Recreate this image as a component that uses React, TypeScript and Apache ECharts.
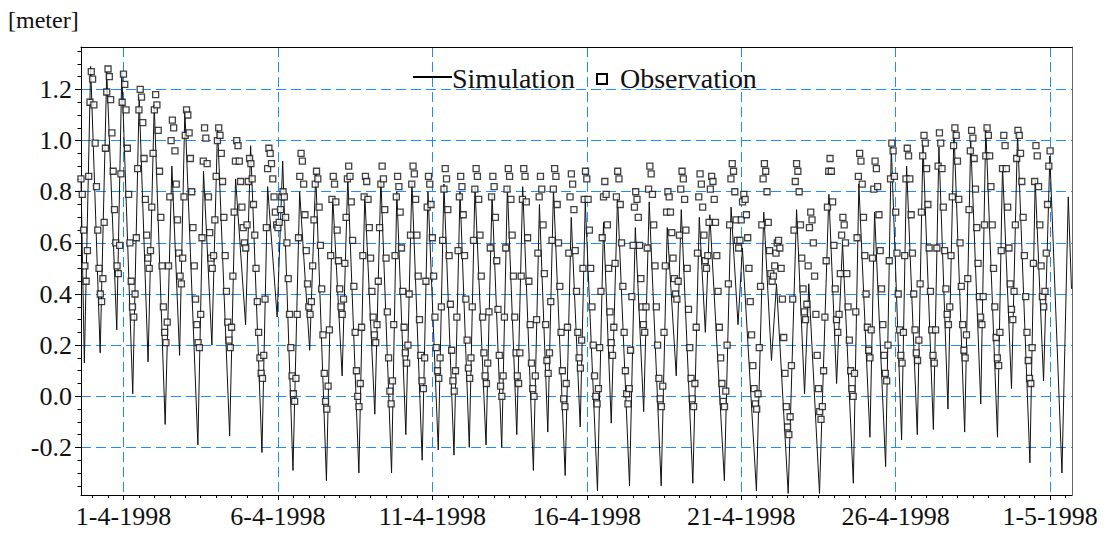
import React, { useEffect, useRef } from "react";
import * as echarts from "echarts";

// Time axis: hours since 30-3-1998 15:00
const xTickHours = [33, 153, 273, 393, 513, 633, 753];
const xTickLabels = ["1-4-1998", "6-4-1998", "11-4-1998", "16-4-1998", "21-4-1998", "26-4-1998", "1-5-1998"];
const yTickValues = [-0.2, 0, 0.2, 0.4, 0.6, 0.8, 1.0, 1.2];
const yTickLabels = ["-0.2", "0.0", "0.2", "0.4", "0.6", "0.8", "1.0", "1.2"];

// Simulation: turning points of the simulated water level (hour, meter)
const simHours = [
  0, 2.6, 7.5, 14.9, 20.0, 27.8, 31.7, 40.2, 45.2, 52.1, 56.9, 65.4, 70.6, 76.6, 80.7, 90.8, 95.2, 101.7, 106.1, 115.5,
  120.1, 127.9, 131.8, 140.6, 145.0, 152.4, 156.7, 164.7, 169.9, 177.7, 182.4, 190.7, 195.6, 202.9, 207.3, 215.9, 220.5,
  228.3, 233.0, 241.3, 245.4, 252.4, 257.1, 265.1, 269.6, 277.6, 282.0, 289.8, 294.5, 301.7, 306.1, 314.7, 319.4, 326.9,
  331.3, 338.6, 343.2, 351.5, 356.2, 362.7, 367.1, 376.2, 380.9, 387.9, 391.8, 401.3, 406.0, 412.0, 416.9, 426.2, 430.7,
  437.2, 441.5, 450.8, 455.5, 462.5, 466.4, 475.4, 480.4, 485.1, 488.6, 499.9, 505.1, 510.5, 513.9, 524.8, 530.5, 536.5,
  540.4, 549.5, 556.0, 562.2, 565.5, 573.8, 581.1, 587.1, 591.7, 600.1, 604.4, 613.0, 616.6, 625.2, 629.6, 637.6, 641.5,
  649.8, 654.2, 662.3, 666.6, 673.6, 678.3, 686.6, 691.3, 699.1, 703.0, 712.1, 716.0, 723.0, 727.7, 737.3, 741.4, 747.9,
  752.8, 762.2, 767.1, 769.6,
];
const simLevels = [
  0.85, 0.13, 1.29, 0.17, 1.27, 0.26, 1.27, 0.01, 1.17, 0.135, 1.14, -0.11, 0.9, 0.16, 1.12, -0.19, 0.88, 0.2, 1.05, -0.155,
  0.85, 0.28, 0.98, -0.22, 0.82, 0.31, 0.92, -0.29, 0.8, 0.18, 0.87, -0.33, 0.78, 0.08, 0.86, -0.3, 0.79,
  -0.07, 0.85, -0.3, 0.8, -0.15, 0.84, -0.25, 0.8, -0.21, 0.83, -0.23, 0.8, -0.2, 0.82, -0.19, 0.79, -0.2,
  0.82, -0.15, 0.82, -0.29, 0.75, -0.14, 0.81, -0.31, 0.7, -0.12, 0.76, -0.37, 0.68, -0.105, 0.78, -0.35, 0.66,
  -0.06, 0.76, -0.35, 0.66, 0.08, 0.73, -0.34, 0.7, 0.25, 0.71, -0.33, 0.74, 0.28, 0.58, -0.37, 0.72, 0.14,
  0.44, -0.38, 0.73, 0.01, 0.44, -0.38, 0.79, 0.05, 0.6, -0.34, 0.83, -0.16, 0.72, -0.275, 0.975, -0.17, 0.9,
  -0.15, 0.985, -0.13, 0.975, -0.05, 1.04, -0.14, 1.0, -0.03, 1.05, -0.16, 0.9, 0.03, 1.03, -0.26, 0.845, 0.06,
  0.94, -0.3, 0.78, 0.42,
];

// Observation: hourly observed water level from hour 0
const obsStartHour = 0;
const obsLevels = [
  0.85, 0.79, 0.65, 0.51, 0.45, 0.57, 0.86, 1.15, 1.27, 1.24, 1.14, 0.99, 0.82, 0.65, 0.5, 0.4, 0.37,
  0.46, 0.68, 0.97, 1.19, 1.28, 1.25, 1.16, 1.03, 0.88, 0.73, 0.6, 0.51, 0.48, 0.59, 0.87, 1.15, 1.26,
  1.22, 1.12, 0.97, 0.79, 0.6, 0.45, 0.35, 0.31, 0.4, 0.62, 0.89, 1.12, 1.2, 1.17, 1.07, 0.93, 0.77, 0.63, 0.54, 0.5,
  0.57, 0.74, 0.95, 1.12, 1.18, 1.14, 1.04, 0.88, 0.7, 0.51, 0.35, 0.25, 0.21, 0.29, 0.51, 0.78, 1.0, 1.08,
  1.05, 0.96, 0.83, 0.69, 0.56, 0.47, 0.44, 0.54, 0.78, 1.02, 1.12,
  1.1, 1.03, 0.93, 0.8, 0.66, 0.51, 0.38, 0.28, 0.21, 0.19, 0.32, 0.62, 0.92, 1.05,
  1.01, 0.91, 0.78, 0.64, 0.54, 0.5, 0.55, 0.69, 0.86, 1.0, 1.05,
  1.02, 0.95, 0.84, 0.7, 0.55, 0.41, 0.29, 0.22, 0.19, 0.27, 0.47, 0.72, 0.92, 1.0,
  0.98, 0.92, 0.84, 0.74, 0.66, 0.6, 0.58, 0.67, 0.84, 0.93,
  0.91, 0.85, 0.75, 0.63, 0.5, 0.37, 0.25, 0.15, 0.09, 0.07, 0.16, 0.38, 0.66, 0.89, 0.97,
  0.95, 0.91, 0.85, 0.78, 0.72, 0.67, 0.66, 0.68, 0.73, 0.78, 0.8,
  0.78, 0.7, 0.6, 0.46, 0.32, 0.19, 0.08, 0.01, -0.02, 0.07, 0.32, 0.62, 0.86, 0.95,
  0.92, 0.83, 0.71, 0.57, 0.44, 0.35, 0.32, 0.37, 0.51, 0.69, 0.83, 0.88,
  0.85, 0.74, 0.59, 0.42, 0.24, 0.09, -0.02, -0.05, 0.04, 0.26, 0.55, 0.77, 0.86,
  0.83, 0.76, 0.65, 0.53, 0.42, 0.35, 0.32, 0.38, 0.52, 0.7, 0.85, 0.9,
  0.86, 0.76, 0.61, 0.43, 0.25, 0.1, 0.0, -0.04, 0.05, 0.27, 0.55, 0.78, 0.86,
  0.84, 0.77, 0.66, 0.54, 0.41, 0.31, 0.24, 0.21, 0.28, 0.45, 0.66, 0.83, 0.9,
  0.85, 0.73, 0.54, 0.33, 0.15, 0.02, -0.03, 0.06, 0.28, 0.55, 0.78, 0.86,
  0.82, 0.72, 0.58, 0.41, 0.27, 0.17, 0.13, 0.2, 0.4, 0.63, 0.83, 0.9,
  0.87, 0.77, 0.63, 0.47, 0.3, 0.16, 0.06, 0.03, 0.15, 0.45, 0.74, 0.86,
  0.83, 0.75, 0.62, 0.47, 0.31, 0.19, 0.1, 0.07, 0.15, 0.35, 0.61, 0.81, 0.89,
  0.85, 0.73, 0.55, 0.36, 0.18, 0.06, 0.02, 0.1, 0.31, 0.57, 0.78, 0.86,
  0.82, 0.71, 0.55, 0.38, 0.22, 0.11, 0.07, 0.15, 0.35, 0.61, 0.81, 0.89,
  0.86, 0.77, 0.63, 0.47, 0.31, 0.17, 0.08, 0.05, 0.13, 0.33, 0.58, 0.78, 0.86,
  0.82, 0.7, 0.53, 0.34, 0.16, 0.04, 0.0, 0.08, 0.31, 0.58, 0.81, 0.89,
  0.86, 0.77, 0.63, 0.47, 0.31, 0.17, 0.08, 0.05, 0.17, 0.47, 0.77, 0.89,
  0.86, 0.76, 0.62, 0.45, 0.28, 0.13, 0.03, 0.0, 0.08, 0.3, 0.56, 0.78, 0.86,
  0.81, 0.67, 0.48, 0.28, 0.14, 0.09, 0.17, 0.37, 0.61, 0.81, 0.89,
  0.86, 0.75, 0.6, 0.43, 0.25, 0.1, -0.01, -0.04, 0.05, 0.27, 0.56, 0.78, 0.87,
  0.83, 0.73, 0.57, 0.41, 0.25, 0.15, 0.11, 0.22, 0.5, 0.77, 0.88,
  0.85, 0.77, 0.65, 0.5, 0.35, 0.2, 0.08, 0.0, -0.03, 0.03, 0.19, 0.41, 0.62, 0.78, 0.84,
  0.79, 0.67, 0.5, 0.33, 0.21, 0.16, 0.27, 0.52, 0.78, 0.88,
  0.85, 0.75, 0.6, 0.43, 0.25, 0.1, 0.01, -0.03, 0.03, 0.18, 0.39, 0.59, 0.74, 0.8,
  0.77, 0.7, 0.59, 0.46, 0.35, 0.28, 0.25, 0.35, 0.58, 0.81, 0.9,
  0.87, 0.79, 0.67, 0.51, 0.35, 0.2, 0.07, -0.01, -0.04, 0.04, 0.25, 0.51, 0.72, 0.8,
  0.78, 0.72, 0.64, 0.54, 0.46, 0.4, 0.38, 0.45, 0.63, 0.81, 0.88,
  0.85, 0.77, 0.65, 0.5, 0.34, 0.19, 0.07, -0.01, -0.04, 0.05, 0.27, 0.56, 0.78, 0.87,
  0.83, 0.74, 0.63, 0.53, 0.5, 0.55, 0.68, 0.81, 0.86,
  0.84, 0.77, 0.68, 0.55, 0.41, 0.27, 0.15, 0.05, -0.02, -0.04, 0.02, 0.2, 0.44, 0.67, 0.85, 0.91,
  0.88, 0.8, 0.69, 0.61, 0.58, 0.61, 0.69, 0.76, 0.79,
  0.77, 0.71, 0.62, 0.5, 0.37, 0.24, 0.12, 0.03, -0.03, -0.05, 0.01, 0.19, 0.43, 0.67, 0.85, 0.91,
  0.88, 0.8, 0.68, 0.57, 0.48, 0.45, 0.47, 0.51, 0.56, 0.6, 0.61,
  0.58, 0.5, 0.38, 0.23, 0.09, -0.04, -0.12, -0.15, -0.08, 0.12, 0.38, 0.65, 0.84, 0.91,
  0.88, 0.8, 0.67, 0.54, 0.42, 0.33, 0.3, 0.36, 0.51, 0.66, 0.72,
  0.69, 0.6, 0.47, 0.32, 0.16, 0.03, -0.06, -0.09, -0.04, 0.1, 0.31, 0.53, 0.74, 0.88, 0.93,
  0.88, 0.76, 0.59, 0.42, 0.3, 0.25, 0.32, 0.48, 0.63, 0.7,
  0.67, 0.6, 0.48, 0.35, 0.22, 0.1, 0.03, 0.0, 0.09, 0.33, 0.62, 0.86, 0.95,
  0.92, 0.83, 0.7, 0.55, 0.4, 0.27, 0.18, 0.15, 0.26, 0.54, 0.81, 0.92,
  0.89, 0.82, 0.71, 0.57, 0.42, 0.28, 0.16, 0.09, 0.06, 0.2, 0.53, 0.85, 0.99,
  0.96, 0.86, 0.72, 0.56, 0.4, 0.26, 0.16, 0.13, 0.25, 0.55, 0.85, 0.97,
  0.94, 0.85, 0.71, 0.56, 0.4, 0.26, 0.17, 0.14, 0.22, 0.44, 0.72, 0.94, 1.02,
  0.99, 0.89, 0.75, 0.58, 0.41, 0.26, 0.16, 0.13, 0.26, 0.58, 0.9, 1.03,
  0.99, 0.89, 0.74, 0.57, 0.42, 0.32, 0.28, 0.35, 0.55, 0.78, 0.98, 1.05,
  1.02, 0.92, 0.77, 0.6, 0.43, 0.28, 0.18, 0.15, 0.24, 0.46, 0.73, 0.96, 1.04,
  1.01, 0.93, 0.81, 0.66, 0.52, 0.39, 0.31, 0.28, 0.39, 0.67, 0.94, 1.05,
  1.02, 0.94, 0.82, 0.67, 0.5, 0.35, 0.23, 0.15, 0.12, 0.25, 0.57, 0.89, 1.02,
  0.98, 0.89, 0.74, 0.58, 0.44, 0.34, 0.3, 0.41, 0.67, 0.93, 1.04,
  1.02, 0.95, 0.84, 0.7, 0.55, 0.39, 0.25, 0.14, 0.07, 0.05, 0.19, 0.52, 0.84, 0.98,
  0.94, 0.82, 0.67, 0.51, 0.39, 0.35, 0.41, 0.56, 0.75, 0.9, 0.96,
];

const X_MIN = 0;
const X_MAX = 770;
const Y_MIN = -0.386;
const Y_MAX = 1.366;

const SERIF = "Liberation Serif";
const GRID_BLUE = "#1e8cff";

const minorXTicks: number[] = [];
for (let h = 9; h <= X_MAX; h += 12) minorXTicks.push(h);
const minorYTicks: number[] = [];
for (let k = -7; k <= 27; k++) minorYTicks.push(Math.round(k * 5) / 100);

export default function App() {
  const ref = useRef<HTMLDivElement>(null);
  useEffect(() => {
    document.body.style.margin = "0";
    const chart = echarts.init(ref.current as HTMLDivElement, null, { renderer: "svg" });
    const simData = simHours.map((h, i) => [h, simLevels[i]]);
    const obsData = obsLevels.map((v, i) => [obsStartHour + i, v]);
    const xBase = { type: "value", min: X_MIN, max: X_MAX, gridIndex: 0 };
    const yBase = { type: "value", min: Y_MIN, max: Y_MAX, gridIndex: 0 };
    chart.setOption({
      animation: false,
      backgroundColor: "#ffffff",
      grid: { left: 81, right: 41, top: 47, bottom: 39, containLabel: false, outerBoundsMode: "none" },
      xAxis: [
        {
          ...xBase,
          position: "bottom",
          axisLine: { show: true, onZero: false, lineStyle: { color: "#000", width: 1 } },
          axisTick: { show: true, length: 5, customValues: xTickHours, lineStyle: { color: "#000", width: 1 } },
          axisLabel: {
            show: true,
            customValues: xTickHours,
            formatter: (v: number) => {
              const i = xTickHours.indexOf(Math.round(v));
              return i >= 0 ? xTickLabels[i] : "";
            },
            fontFamily: SERIF,
            fontSize: 26,
            color: "#111",
            margin: 8,
          },
          splitLine: { show: true, lineStyle: { color: GRID_BLUE, width: 1, type: [10, 5] } },
          minorTick: { show: false },
        },
        {
          ...xBase,
          position: "bottom",
          axisLine: { show: false, onZero: false },
          axisTick: { show: true, length: 3, customValues: minorXTicks, lineStyle: { color: "#000", width: 1 } },
          axisLabel: { show: false },
          splitLine: { show: false },
        },
        {
          ...xBase,
          position: "top",
          axisLine: { show: true, onZero: false, lineStyle: { color: "#000", width: 1 } },
          axisTick: { show: false },
          axisLabel: { show: false },
          splitLine: { show: false },
        },
      ],
      yAxis: [
        {
          ...yBase,
          position: "left",
          axisLine: { show: true, onZero: false, lineStyle: { color: "#000", width: 1 } },
          axisTick: { show: true, length: 6, customValues: yTickValues, lineStyle: { color: "#000", width: 1 } },
          axisLabel: {
            show: true,
            customValues: yTickValues,
            formatter: (v: number) => {
              const i = yTickValues.findIndex((t) => Math.abs(t - v) < 1e-6);
              return i >= 0 ? yTickLabels[i] : "";
            },
            fontFamily: SERIF,
            fontSize: 26,
            color: "#111",
            margin: 9,
          },
          splitLine: { show: true, lineStyle: { color: GRID_BLUE, width: 1, type: [10, 5] } },
        },
        {
          ...yBase,
          position: "left",
          axisLine: { show: false, onZero: false },
          axisTick: { show: true, length: 3.5, customValues: minorYTicks, lineStyle: { color: "#000", width: 1 } },
          axisLabel: { show: false },
          splitLine: { show: false },
        },
        {
          ...yBase,
          position: "right",
          axisLine: { show: true, onZero: false, lineStyle: { color: "#666", width: 1 } },
          axisTick: { show: false },
          axisLabel: { show: false },
          splitLine: { show: false },
        },
      ],
      series: [
        {
          name: "Simulation",
          type: "line",
          xAxisIndex: 0,
          yAxisIndex: 0,
          data: simData,
          symbol: "none",
          lineStyle: { color: "#111", width: 1 },
          z: 2,
        },
        {
          name: "Observation",
          type: "scatter",
          xAxisIndex: 0,
          yAxisIndex: 0,
          data: obsData,
          symbol: "rect",
          symbolSize: 6,
          itemStyle: { color: "#fff", borderColor: "#111", borderWidth: 1.3 },
          z: 3,
        },
      ],
      graphic: [
        {
          type: "text",
          x: 8,
          y: 20,
          style: { text: "[meter]", fontFamily: SERIF, fontSize: 24, fill: "#111", verticalAlign: "middle", textVerticalAlign: "middle" },
        },
        {
          type: "line",
          shape: { x1: 413, y1: 77, x2: 452, y2: 77 },
          style: { stroke: "#000", lineWidth: 2 },
          z: 10,
        },
        {
          type: "text",
          x: 452,
          y: 78,
          style: { text: "Simulation", fontFamily: SERIF, fontSize: 28, fill: "#111", verticalAlign: "middle", textVerticalAlign: "middle" },
          z: 10,
        },
        {
          type: "rect",
          shape: { x: 597, y: 74, width: 10, height: 10 },
          style: { fill: "#fff", stroke: "#000", lineWidth: 2 },
          z: 10,
        },
        {
          type: "text",
          x: 620,
          y: 78,
          style: { text: "Observation", fontFamily: SERIF, fontSize: 28, fill: "#111", verticalAlign: "middle", textVerticalAlign: "middle" },
          z: 10,
        },
      ],
    });
    return () => chart.dispose();
  }, []);
  return <div ref={ref} style={{ width: 1113, height: 534, position: "absolute", left: 0, top: 0 }} />;
}
